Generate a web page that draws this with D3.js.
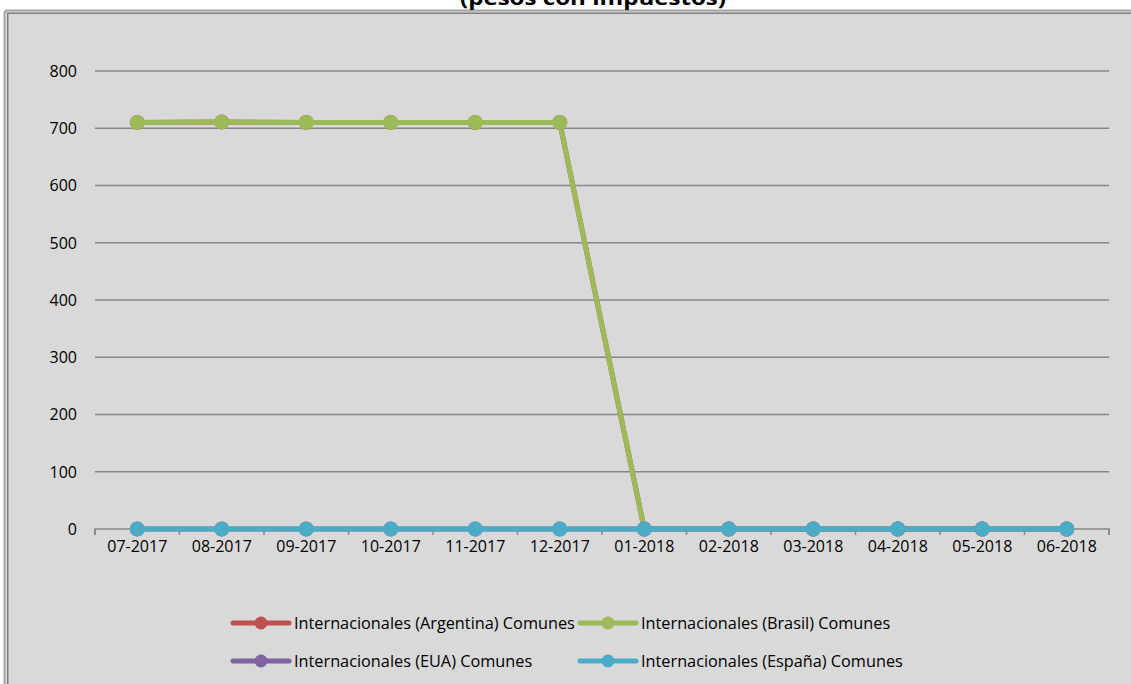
<!DOCTYPE html>
<html>
<head>
<meta charset="utf-8">
<script src="https://cdn.jsdelivr.net/npm/d3@7"></script>
<style>
html,body{margin:0;padding:0;background:#fff;}
svg{display:block;font-family:"Open Sans",sans-serif;}
</style>
</head>
<body>
<svg id="chart" width="1131" height="684"></svg>
<script>
const categories = ["07-2017","08-2017","09-2017","10-2017","11-2017","12-2017","01-2018","02-2018","03-2018","04-2018","05-2018","06-2018"];
const argentina = [710,711,710,710,710,710,0,0,0,0,0,0];
const brasil    = [710,711,710,710,710,710,0,0,0,0,0,0];
const eua       = [0,0,0,0,0,0,0,0,0,0,0,0];
const espana    = [0,0,0,0,0,0,0,0,0,0,0,0];
const yTicks = [0,100,200,300,400,500,600,700,800];
const seriesNames = ["Internacionales (Argentina) Comunes","Internacionales (Brasil) Comunes","Internacionales (EUA) Comunes","Internacionales (España) Comunes"];
const seriesColors = ["#c0504d","#9bbb59","#8064a2","#4bacc6"];
const titleText = "(pesos con impuestos)";

const series = [argentina, brasil, eua, espana].map((v,i)=>({name:seriesNames[i], color:seriesColors[i], values:v}));

const svg = d3.select("#chart");

// frame
svg.append("rect").attr("x",4.5).attr("y",10.5).attr("width",1200).attr("height",800)
  .attr("rx",3).attr("fill","#d9d9d9").attr("stroke","#a6a6a6").attr("stroke-width",2);
svg.append("rect").attr("x",7.75).attr("y",13.25).attr("width",1200).attr("height",800)
  .attr("fill","none").attr("stroke","#808080").attr("stroke-width",1.5);

// title (cut at top, as in the reference)
svg.append("text").attr("x",593).attr("y",4.5).attr("text-anchor","middle")
  .attr("font-weight","bold").attr("font-size",20).attr("fill","#000")
  .attr("textLength",266).attr("lengthAdjust","spacingAndGlyphs")
  .text(titleText);

const x = d3.scaleBand().domain(categories).range([95,1109]);
const y = d3.scaleLinear().domain([0,800]).range([529,71]);

// gridlines
svg.append("g").selectAll("line").data(yTicks.filter(d=>d>0)).join("line")
  .attr("x1",95).attr("x2",1109).attr("y1",d=>y(d)).attr("y2",d=>y(d))
  .attr("stroke","#868686").attr("stroke-width",1.5);

// y axis labels
const yAxis = d3.axisLeft(y).tickValues(yTicks).tickSize(0).tickPadding(0).tickFormat(d3.format("d"));
const yg = svg.append("g").attr("transform","translate(77,0)").call(yAxis);
yg.select(".domain").remove();
yg.selectAll("text").attr("font-size",16).attr("font-family","Open Sans").attr("fill","#000").attr("dy","0.34em");

// x axis
const xAxis = d3.axisBottom(x).tickSize(0).tickPadding(12);
const xg = svg.append("g").attr("transform",`translate(0,${y(0)})`).call(xAxis);
xg.select(".domain").attr("stroke","#868686").attr("stroke-width",1.5).attr("d","M95,6V0H1109V6");
xg.selectAll("text").attr("font-size",16).attr("font-family","Open Sans").attr("fill","#000");
// boundary tick marks
const bounds = categories.map(c=>x(c)).concat([x.range()[1]]);
svg.append("g").selectAll("line").data(bounds).join("line")
  .attr("x1",d=>d).attr("x2",d=>d).attr("y1",y(0)).attr("y2",y(0)+6)
  .attr("stroke","#868686").attr("stroke-width",1.5);

// lines
const line = d3.line().x((d,i)=>x(categories[i])+x.bandwidth()/2).y(d=>y(d));
const sg = svg.append("g").selectAll("g").data(series).join("g");
sg.append("path").attr("d",d=>line(d.values)).attr("fill","none")
  .attr("stroke",d=>d.color).attr("stroke-width",5).attr("stroke-linejoin","round");
sg.selectAll("circle").data(d=>d.values.map(v=>({v,color:d.color}))).join("circle")
  .attr("cx",(d,i)=>x(categories[i])+x.bandwidth()/2).attr("cy",d=>y(d.v))
  .attr("r",7.5).attr("fill",d=>d.color);

// legend
const legendPos = [[233,623],[580,623],[233,661],[580,661]];
const lg = svg.append("g").selectAll("g").data(series).join("g")
  .attr("transform",(d,i)=>`translate(${legendPos[i][0]},${legendPos[i][1]})`);
lg.append("line").attr("x1",0).attr("x2",56).attr("y1",0).attr("y2",0)
  .attr("stroke",d=>d.color).attr("stroke-width",5).attr("stroke-linecap","round");
lg.append("circle").attr("cx",28).attr("cy",0).attr("r",6.5).attr("fill",d=>d.color);
lg.append("text").attr("x",61).attr("y",0).attr("dy","0.35em").attr("font-size",16.3)
  .attr("fill","#000").text(d=>d.name);
</script>
</body>
</html>
